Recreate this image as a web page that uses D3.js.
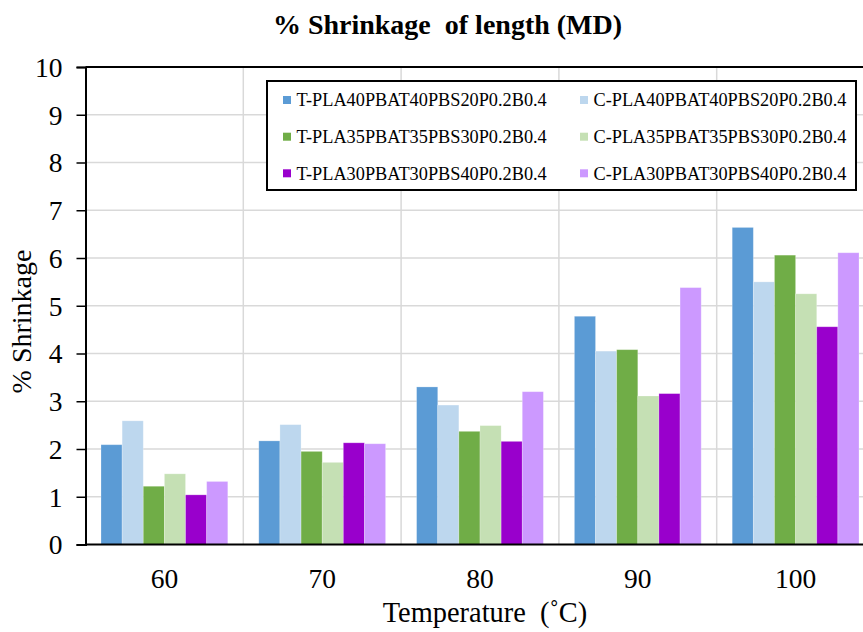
<!DOCTYPE html>
<html>
<head>
<meta charset="utf-8">
<script src="https://cdn.jsdelivr.net/npm/d3@7"></script>
<style>
  html, body { margin: 0; padding: 0; background: #fff; }
  svg { display: block; }
  text { font-family: "Liberation Serif", "Times New Roman", serif; fill: #000; white-space: pre; }
</style>
</head>
<body>
<svg id="chart" width="863" height="632"></svg>
<script>
// Shrinkage (%) of length in machine direction at each oven temperature
const temperatures = ["60", "70", "80", "90", "100"];
const seriesNames = [
  "T-PLA40PBAT40PBS20P0.2B0.4",
  "C-PLA40PBAT40PBS20P0.2B0.4",
  "T-PLA35PBAT35PBS30P0.2B0.4",
  "C-PLA35PBAT35PBS30P0.2B0.4",
  "T-PLA30PBAT30PBS40P0.2B0.4",
  "C-PLA30PBAT30PBS40P0.2B0.4"
];
const tPla40 = [2.09, 2.17, 3.30, 4.78, 6.64];
const cPla40 = [2.59, 2.51, 2.92, 4.05, 5.50];
const tPla35 = [1.22, 1.95, 2.37, 4.08, 6.06];
const cPla35 = [1.48, 1.72, 2.49, 3.11, 5.25];
const tPla30 = [1.04, 2.13, 2.16, 3.16, 4.56];
const cPla30 = [1.32, 2.11, 3.20, 5.38, 6.11];
const yTicks = [0, 1, 2, 3, 4, 5, 6, 7, 8, 9, 10];

const seriesValues = [tPla40, cPla40, tPla35, cPla35, tPla30, cPla30];
const colors = ["#5B9BD5", "#BDD7EE", "#70AD47", "#C5E0B4", "#9900CC", "#CC99FF"];
const serif = "'Liberation Serif', 'Times New Roman', serif";

const svg = d3.select("#chart");
const plot = { left: 85.5, right: 874.5, top: 67, bottom: 544.5 };

const x0 = d3.scaleBand().domain(temperatures).range([plot.left, plot.right]).padding(0);
const groupGap = 16;
const x1 = d3.scaleBand().domain(d3.range(seriesNames.length))
  .range([groupGap - 0.5, x0.bandwidth() - groupGap + 0.5]).padding(0);
const y = d3.scaleLinear().domain([0, 10]).range([plot.bottom, plot.top]);

// horizontal gridlines
svg.append("g")
  .selectAll("line")
  .data(yTicks.slice(1))
  .join("line")
  .attr("x1", plot.left).attr("x2", plot.right)
  .attr("y1", d => y(d)).attr("y2", d => y(d))
  .attr("stroke", "#D9D9D9").attr("stroke-width", 1.5);

// vertical gridlines between temperature groups
svg.append("g")
  .selectAll("line")
  .data(temperatures.slice(1))
  .join("line")
  .attr("x1", d => x0(d)).attr("x2", d => x0(d))
  .attr("y1", plot.top).attr("y2", plot.bottom)
  .attr("stroke", "#D9D9D9").attr("stroke-width", 1.5);

// bars
const groups = svg.append("g")
  .selectAll("g")
  .data(temperatures)
  .join("g")
  .attr("transform", d => `translate(${x0(d)},0)`);

groups.selectAll("rect")
  .data((t, i) => seriesValues.map((vals, s) => ({ s, v: vals[i] })))
  .join("rect")
  .attr("x", d => x1(d.s))
  .attr("width", x1.bandwidth())
  .attr("y", d => y(d.v))
  .attr("height", d => y(0) - y(d.v))
  .attr("fill", d => colors[d.s])
  .attr("stroke", "#fff").attr("stroke-opacity", 0.3).attr("stroke-width", 0.8);

// plot frame: top and bottom lines
svg.append("line")
  .attr("x1", plot.left).attr("x2", plot.right)
  .attr("y1", plot.top).attr("y2", plot.top)
  .attr("stroke", "#000").attr("stroke-width", 2);
svg.append("line")
  .attr("x1", plot.left).attr("x2", plot.right)
  .attr("y1", plot.bottom).attr("y2", plot.bottom)
  .attr("stroke", "#000").attr("stroke-width", 2);

// y axis
const yAxis = svg.append("g")
  .attr("transform", `translate(${plot.left},0)`)
  .call(d3.axisLeft(y).tickValues(yTicks).tickSize(9).tickPadding(14).tickFormat(d3.format("d")));
yAxis.attr("font-family", serif);
yAxis.select(".domain").attr("stroke", "#000").attr("stroke-width", 2);
yAxis.selectAll(".tick line").attr("stroke", "#000").attr("stroke-width", 1.5);
yAxis.selectAll(".tick text")
  .style("font-family", serif)
  .style("font-size", "27.5px")
  .attr("dy", "0.34em");

// x axis labels
const xAxis = svg.append("g")
  .attr("transform", `translate(0,${plot.bottom})`)
  .call(d3.axisBottom(x0).tickSize(0).tickPadding(0));
xAxis.attr("font-family", serif);
xAxis.select(".domain").remove();
xAxis.selectAll(".tick text")
  .style("font-family", serif)
  .style("font-size", "27.5px")
  .attr("y", 43.5)
  .attr("dy", 0);

// title
svg.append("text")
  .attr("x", 447.5).attr("y", 33.5)
  .attr("text-anchor", "middle")
  .style("font-family", serif)
  .style("font-size", "28px")
  .style("font-weight", "bold")
  .text("% Shrinkage  of length (MD)");

// axis titles
svg.append("text")
  .attr("x", 485).attr("y", 621.5)
  .attr("text-anchor", "middle")
  .style("font-family", serif)
  .style("font-size", "28.4px")
  .text("Temperature  (˚C)");

svg.append("text")
  .attr("transform", "translate(31,321.5) rotate(-90)")
  .attr("text-anchor", "middle")
  .style("font-family", serif)
  .style("font-size", "28px")
  .text("% Shrinkage");

// legend
const legend = svg.append("g");
legend.append("rect")
  .attr("x", 267).attr("y", 81)
  .attr("width", 589).attr("height", 109)
  .attr("fill", "#fff")
  .attr("stroke", "#000").attr("stroke-width", 2);

const legendCols = [283, 580];
const legendRows = [100, 136.7, 173.3];
const items = legend.selectAll("g.item")
  .data(seriesNames)
  .join("g")
  .attr("class", "item")
  .attr("transform", (d, i) => `translate(${legendCols[i % 2]},${legendRows[Math.floor(i / 2)]})`);
items.append("rect")
  .attr("x", 0).attr("y", -4)
  .attr("width", 8).attr("height", 8)
  .attr("fill", (d, i) => colors[i]);
items.append("text")
  .attr("x", 13.5).attr("y", 0)
  .attr("dy", "0.35em")
  .style("font-family", serif)
  .style("font-size", "18.3px")
  .text(d => d);
</script>
</body>
</html>
